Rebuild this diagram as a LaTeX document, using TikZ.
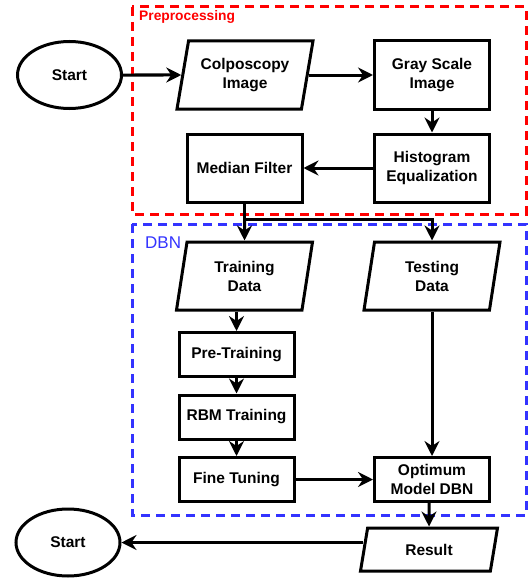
\documentclass[tikz,border=0pt]{standalone}
\usepackage{fontspec}
\setmainfont{Liberation Sans}
\usetikzlibrary{shapes.geometric, arrows.meta, positioning}
\definecolor{prered}{HTML}{FF0000}
\definecolor{dbnblue}{HTML}{3333FF}

\begin{document}
\begin{tikzpicture}[
    x=1pt, y=-1pt, on grid,
    font=\bfseries\fontsize{15.5}{19}\selectfont,
    block/.style={rectangle, draw, line width=3pt, align=center, minimum width=115pt, minimum height=68pt, inner sep=2pt},
    smallblock/.style={block, minimum height=44pt},
    io/.style={trapezium, trapezium left angle=72, trapezium right angle=108, trapezium stretches body, draw, line width=3pt, align=center, minimum width=136pt, minimum height=68pt, inner sep=1pt},
    term/.style={ellipse, draw, line width=3pt, minimum width=104pt, minimum height=67pt, inner sep=0pt},
    group/.style={dash pattern=on 9pt off 6pt, line width=3pt},
    line/.style={draw, line width=3pt, -{Stealth[length=15pt, width=15pt, inset=5pt]}}
]
\useasboundingbox (0,0) rectangle (531,578);

% group frames
\draw [group, prered] (132,7) rectangle (526,214);
\draw [group, dbnblue] (132,224) rectangle (526,515);
\node [anchor=west, inner sep=0pt, text=prered, font=\bfseries\fontsize{13.8}{16}\selectfont] (prelabel) at (139,17) {Preprocessing};
\node [anchor=west, inner sep=0pt, text=dbnblue, font=\fontsize{17}{20}\selectfont] (dbnlabel) at (145,243) {DBN};

\node [term] (begin) at (69.5,75) {Start};
\node [io, right=175.5pt of begin] (colpo) {Colposcopy\\Image};
\node [block, right=187pt of colpo] (gray) {Gray Scale\\Image};
\node [block, below=93pt of gray] (histeq) {Histogram\\Equalization};
\node [block, left=187.5pt of histeq] (median) {Median Filter};
\node [io, below=108pt of median] (train) {Training\\Data};
\node [io, right=187.5pt of train] (test) {Testing\\Data};
\node [smallblock, below=78.5pt of train, xshift=-8pt] (pretrain) {Pre-Training};
\node [smallblock, below=62.5pt of pretrain] (rbm) {RBM Training};
\node [smallblock, below=62.5pt of rbm] (finetune) {Fine Tuning};
\node [smallblock, right=195.5pt of finetune] (optimum) {Optimum\\Model DBN};
\node [io, trapezium left angle=62, trapezium right angle=118, minimum width=137pt, minimum height=43pt, below=70pt of optimum, xshift=-3pt] (result) {Result};
\node [term, left=361pt of result, yshift=7pt] (finish) {Start};

\coordinate [below=16pt of median.south] (split);

\path [line] (begin) -- (colpo);
\path [line] (colpo) -- (gray);
\path [line] (gray) -- (histeq);
\path [line] (histeq) -- (median);
\draw [line width=3pt] (median) -- (split);
\path [line] (split) -- (train);
\path [line] (split) -| (test);
\path [line] (pretrain |- train.south) -- (pretrain);
\path [line] (pretrain) -- (rbm);
\path [line] (rbm) -- (finetune);
\path [line] (finetune) -- (optimum);
\path [line] (test) -- (optimum);
\path [line] (result |- optimum.south) -- (result);
\path [line] (result.west |- finish) -- (finish);
\end{tikzpicture}
\end{document}
